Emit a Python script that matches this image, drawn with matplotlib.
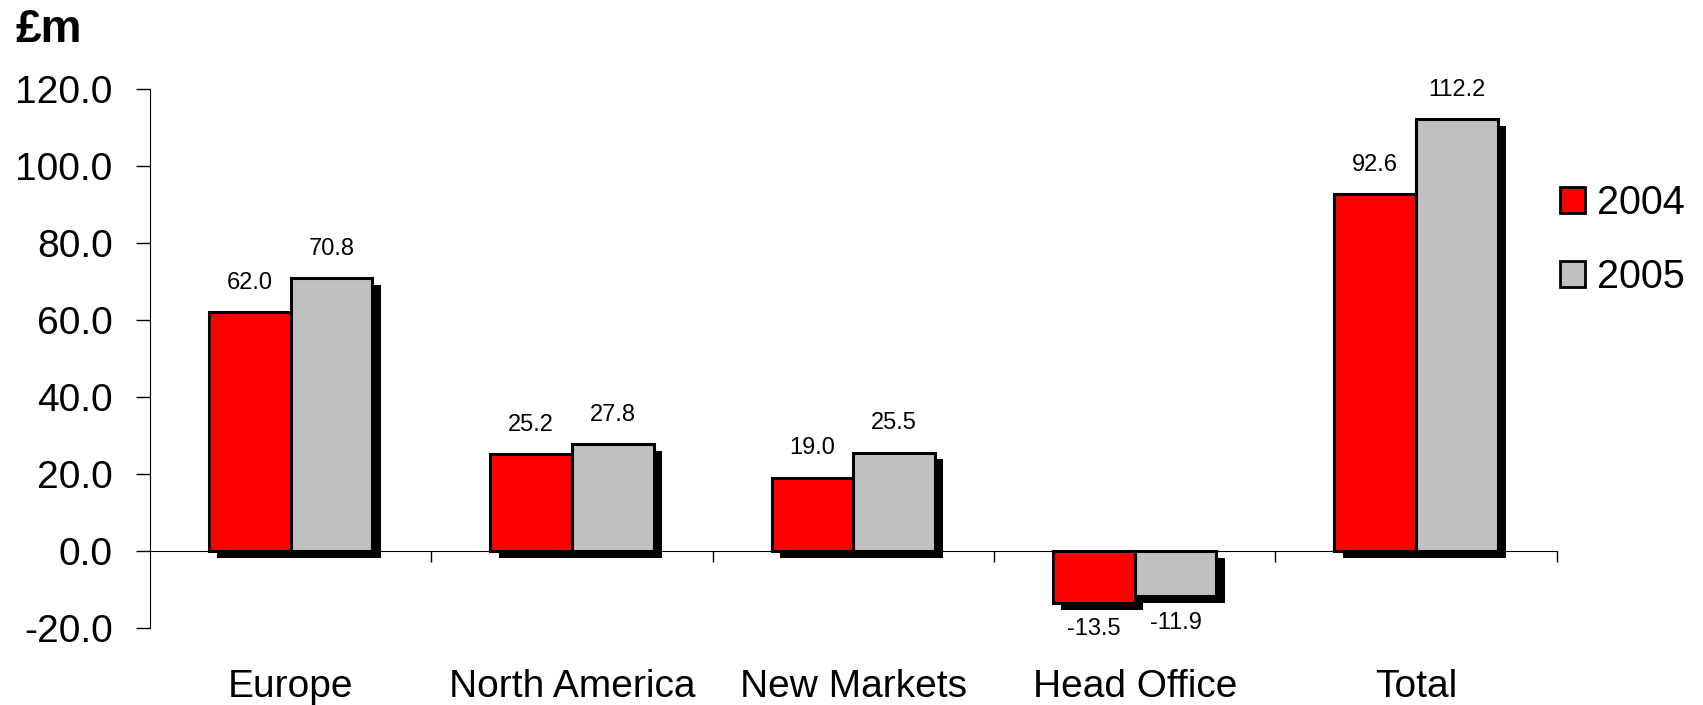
import numpy as np
import matplotlib
matplotlib.use("Agg")
import matplotlib.pyplot as plt
import matplotlib.patheffects as pe
from matplotlib.patches import Patch
from matplotlib.ticker import FormatStrFormatter
from matplotlib.transforms import blended_transform_factory

plt.rcParams['font.family'] = ['Liberation Sans', 'DejaVu Sans']
plt.rcParams['axes.unicode_minus'] = False

categories = ['Europe', 'North America', 'New Markets', 'Head Office', 'Total']
values_2004 = [62.0, 25.2, 19.0, -13.5, 92.6]
values_2005 = [70.8, 27.8, 25.5, -11.9, 112.2]
series_names = ['2004', '2005']
y_ticks = [-20, 0, 20, 40, 60, 80, 100, 120]

colors = ['#FF0000', '#C0C0C0']
width = 0.29

fig = plt.figure(figsize=(17.03, 7.05), dpi=100)
ax = fig.add_axes([0.0881, 0.1098, 0.826, 0.764])

x = np.arange(len(categories))
shadow = [pe.SimplePatchShadow(offset=(6, -5), shadow_rgbFace='black', alpha=1.0), pe.Normal()]

for i, (vals, col) in enumerate(zip([values_2004, values_2005], colors)):
    pos = x + (i - 0.5) * width
    bars = ax.bar(pos, vals, width, color=col, edgecolor='black', linewidth=2.2,
                  path_effects=shadow, zorder=2 + i)
    # value labels above / below each bar
    for b, v in zip(bars, vals):
        if v >= 0:
            ax.annotate(f'{v:.1f}', (b.get_x() + b.get_width() / 2, v),
                        xytext=(0, 13), textcoords='offset points',
                        ha='center', va='bottom', fontsize=17)
        else:
            ax.annotate(f'{v:.1f}', (b.get_x() + b.get_width() / 2, v),
                        xytext=(0, -11), textcoords='offset points',
                        ha='center', va='top', fontsize=17)

ax.set_xlim(-0.5, len(categories) - 0.5)
ax.set_ylim(-20, 120)
ax.set_yticks(y_ticks)
ax.yaxis.set_major_formatter(FormatStrFormatter('%.1f'))
ax.tick_params(axis='y', labelsize=28, length=10, width=1, pad=17)

ax.spines['top'].set_visible(False)
ax.spines['right'].set_visible(False)
ax.spines['bottom'].set_position(('data', 0))
ax.spines['bottom'].set_zorder(5)
ax.set_xticks(x + 0.5)
ax.set_xticklabels([])
ax.tick_params(axis='x', length=8, width=1)

trans = blended_transform_factory(ax.transData, ax.transAxes)
for xi, name in zip(x, categories):
    ax.text(xi, -0.11, name, transform=trans, ha='center', va='center', fontsize=28)

fig.text(0.009, 0.957, '£m', fontsize=33, fontweight='bold', ha='left', va='center')

handles = [Patch(facecolor=c, edgecolor='black', linewidth=2) for c in colors]
fig.legend(handles, series_names, loc='center left', bbox_to_anchor=(0.916, 0.66),
           frameon=False, fontsize=28.5, handlelength=0.64, handleheight=0.64,
           handletextpad=0.3, labelspacing=0.9, borderpad=0, borderaxespad=0)

fig.savefig('out.png', dpi=100)
